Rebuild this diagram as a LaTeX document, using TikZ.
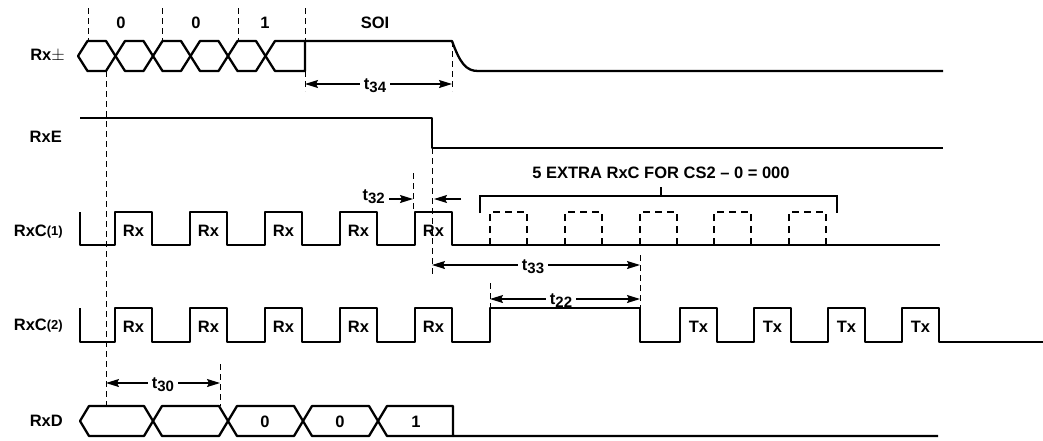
\documentclass[tikz,border=0pt]{standalone}
\usepackage{fontspec}
\setmainfont{Liberation Sans}
\usetikzlibrary{arrows.meta}
\newcommand\tsb[1]{t\raisebox{-3pt}{\fontsize{15}{15}\selectfont #1}}
\newcommand\psup[1]{\raisebox{1pt}{\fontsize{13}{13}\selectfont(#1)}}
\begin{document}
\begin{tikzpicture}[x=1pt,y=-1pt,
  wave/.style={line width=2.3pt, line join=round},
  guide/.style={line width=0.9pt, dash pattern=on 6pt off 4pt},
  ghost/.style={line width=2.3pt, dash pattern=on 7pt off 5pt},
  dim/.style={line width=1.2pt, -{Stealth[length=13pt,width=8pt,inset=2pt]}},
  txt/.style={font=\bfseries\fontsize{16.5}{18}\selectfont, inner sep=0pt},
  dimlbl/.style={font=\bfseries\fontsize{16.5}{18}\selectfont, inner sep=4pt},
  sig/.style={txt, anchor=east},
  brk/.style={line width=1.3pt}]
\useasboundingbox (0,0) rectangle (1043,440);

% ---------- Rx+- ----------
\node[sig] (lrx) at (65,56) {Rx$\pm$};
\foreach \a/\b in {78/115.5,115.5/153,153/190.5,190.5/228,228/265.5}
  \draw[wave] (\a,56)--(\a+9.5,41)--(\b-9.5,41)--(\b,56)--(\b-9.5,71)--(\a+9.5,71)--cycle;
\draw[wave] (265.5,56)--(275,41)--(452,41) .. controls (460,63) and (466,71) .. (478,71) -- (943,71);
\draw[wave] (305,41)--(305,71)--(275,71)--(265.5,56);
\foreach \x in {88,162,238,305} \draw[guide] (\x,8)--(\x,41);
\node[txt] (b1) at (121,23) {0};
\node[txt] (b2) at (196,23) {0};
\node[txt] (b3) at (265,23) {1};
\node[txt] (soi) at (375,23) {SOI};

% t34
\draw[guide] (305,71)--(305,91);
\draw[guide] (452,41)--(452,91);
\node[dimlbl] (t34) at (375,86) {\tsb{34}};
\coordinate (t34a) at (305,84);
\coordinate (t34b) at (452,84);
\draw[dim] (t34a -| t34.west) -- (t34a);
\draw[dim] (t34b -| t34.east) -- (t34b);

% long guide
\draw[guide] (106,71)--(106,406);

% ---------- RxE ----------
\node[sig] (lrxe) at (62,137) {RxE};
\draw[wave] (80,118)--(432,118)--(432,148)--(943,148);
\draw[guide] (432,148)--(432,277);

% ---------- RxC(1) ----------
\node[sig] (lc1) at (63,232) {RxC\psup{1}};
\draw[wave] (80,212)--(80,245)
  \foreach \r in {115,190,265,340,415} { -- (\r,245) -- (\r,212) -- (\r+37,212) -- (\r+37,245) }
  -- (940,245);
\foreach[count=\i] \r in {115,190,265,340,415}
  \node[txt] (rx1\i) at (\r+18.5,231) {Rx};
\foreach \r in {490,565,640,714,789}
  \draw[ghost] (\r,245)--(\r,212)--(\r+37,212)--(\r+37,245);
% bracket
\draw[brk] (480,213)--(480,196)--(837,196)--(837,213);
\draw[brk] (661,196)--(661,187);
\node[txt] (extra) at (661,173) {5 EXTRA RxC FOR CS2 – 0 = 000};

% t32
\draw[guide] (413,173)--(413,212);
\node[dimlbl, anchor=east] (t32) at (389,197) {\tsb{32}};
\coordinate (t32a) at (413,199);
\draw[dim] (t32a -| t32.east) -- (t32a);
\coordinate (t32b) at (434,199);
\coordinate (t32c) at (461,199);
\draw[dim] (t32c) -- (t32b);

% t33
\draw[guide] (640,255)--(640,308);
\node[dimlbl] (t33) at (533,267) {\tsb{33}};
\coordinate (t33a) at (432,265);
\coordinate (t33b) at (640,265);
\draw[dim] (t33a -| t33.west) -- (t33a);
\draw[dim] (t33b -| t33.east) -- (t33b);

% t22
\draw[guide] (490,283)--(490,308);
\node[dimlbl] (t22) at (561,301) {\tsb{22}};
\coordinate (t22a) at (490,299);
\coordinate (t22b) at (640,299);
\draw[dim] (t22a -| t22.west) -- (t22a);
\draw[dim] (t22b -| t22.east) -- (t22b);

% ---------- RxC(2) ----------
\node[sig] (lc2) at (63,326) {RxC\psup{2}};
\draw[wave] (80,308)--(80,342)
  \foreach \r in {115,190,265,340,415} { -- (\r,342) -- (\r,308) -- (\r+37,308) -- (\r+37,342) }
  -- (490,342) -- (490,308) -- (640,308) -- (640,342)
  \foreach \r in {680,754,828,902} { -- (\r,342) -- (\r,308) -- (\r+37,308) -- (\r+37,342) }
  -- (1043,342);
\foreach[count=\i] \r in {115,190,265,340,415}
  \node[txt] (rx2\i) at (\r+18.5,327) {Rx};
\foreach[count=\i] \r in {680,754,828,902}
  \node[txt] (tx\i) at (\r+18.5,327) {Tx};

% t30
\draw[guide] (220,364)--(220,406);
\node[dimlbl] (t30) at (163,385) {\tsb{30}};
\coordinate (t30a) at (106,383);
\coordinate (t30b) at (220,383);
\draw[dim] (t30a -| t30.west) -- (t30a);
\draw[dim] (t30b -| t30.east) -- (t30b);

% ---------- RxD ----------
\node[sig] (lrxd) at (63,421) {RxD};
\foreach \a/\b in {80/153,153/228,228/303,303/378}
  \draw[wave] (\a,421)--(\a+9,406)--(\b-9,406)--(\b,421)--(\b-9,436)--(\a+9,436)--cycle;
\draw[wave] (378,421)--(387,406)--(453,406)--(453,436)--(938,436);
\draw[wave] (453,436)--(387,436)--(378,421);
\node[txt] (d1) at (265,422) {0};
\node[txt] (d2) at (340,422) {0};
\node[txt] (d3) at (416,422) {1};
\end{tikzpicture}
\end{document}
